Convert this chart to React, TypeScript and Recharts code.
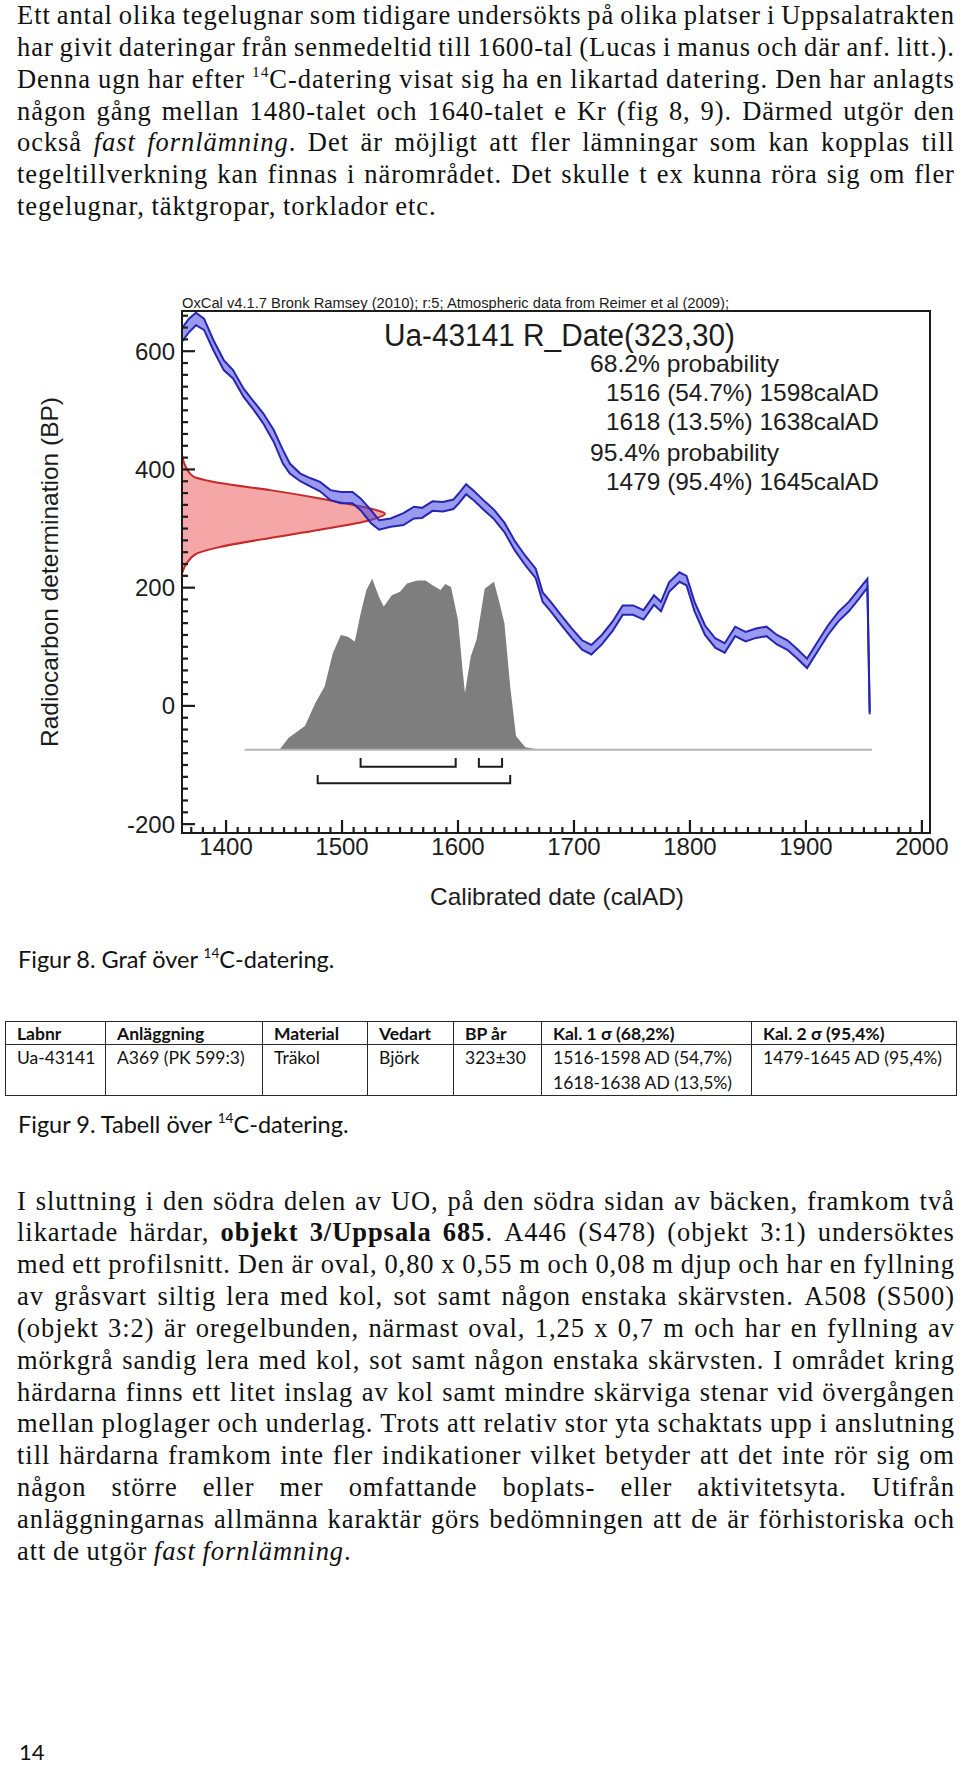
import React from 'react';
import { ComposedChart, Area, Line, XAxis, YAxis, ReferenceArea, Scatter } from 'recharts';

// ---------- chart values ----------
const X_DOMAIN: [number, number] = [1362, 2007];
const Y_DOMAIN: [number, number] = [-215, 668];
const X_MINOR_STEP = 10;
const Y_MINOR_STEP = 20;
const X_MAJOR_STEP = 100;
const Y_MAJOR_STEP = 200;

// calibration curve (IntCal09) band, years AD and BP bounds
const calYear = [1362, 1368, 1374, 1381, 1389, 1398, 1406, 1415, 1423, 1432, 1441, 1449, 1455, 1464, 1473, 1481, 1490, 1499, 1509, 1516, 1525, 1532, 1542, 1553, 1562, 1569, 1578, 1587, 1596, 1600, 1607, 1614, 1623, 1631, 1640, 1649, 1658, 1667, 1673, 1680, 1689, 1698, 1707, 1715, 1724, 1733, 1742, 1751, 1760, 1769, 1775, 1782, 1791, 1797, 1804, 1813, 1822, 1830, 1839, 1848, 1857, 1866, 1875, 1884, 1892, 1901, 1910, 1919, 1928, 1937, 1946, 1953, 1955];
const calLow = [616, 632, 644, 636, 602, 568, 554, 523, 503, 478, 447, 410, 393, 380, 371, 363, 348, 343, 343, 331, 309, 298, 303, 306, 317, 318, 330, 329, 333, 341, 358, 347, 330, 316, 294, 263, 238, 216, 176, 160, 137, 115, 95, 87, 104, 126, 154, 154, 146, 171, 160, 193, 210, 204, 160, 120, 98, 90, 118, 109, 115, 118, 104, 95, 81, 64, 92, 120, 143, 160, 182, 200, -14];
const calHigh = [639, 655, 665, 655, 619, 585, 568, 537, 517, 495, 467, 433, 410, 393, 385, 379, 365, 362, 362, 351, 331, 314, 317, 326, 337, 335, 346, 345, 349, 358, 375, 363, 346, 332, 310, 279, 254, 232, 192, 176, 153, 131, 111, 103, 120, 142, 170, 170, 162, 187, 176, 209, 226, 220, 176, 136, 114, 106, 134, 125, 131, 134, 120, 111, 97, 80, 108, 136, 159, 176, 198, 215, -10];

// calibrated probability distribution (grey)
const postYear = [1416, 1446, 1454, 1468, 1477, 1485, 1492, 1499, 1505, 1511, 1516, 1521, 1526, 1532, 1536, 1543, 1550, 1556, 1565, 1572, 1578, 1585, 1589, 1594, 1600, 1604, 1606, 1611, 1616, 1623, 1631, 1636, 1640, 1645, 1650, 1658, 1671];
const postBP = [-74, -74, -54, -34, 5, 33, 89, 120, 117, 109, 156, 196, 215, 184, 168, 187, 193, 207, 212, 212, 204, 196, 206, 201, 145, 60, 22, 84, 112, 198, 210, 173, 140, 33, -51, -70, -74];
const POST_BASE = -74;
const baseYears = [1416, 1957];

// probability range brackets
const b68aYear = [1516, 1516, 1598, 1598];
const b68bYear = [1618, 1618, 1638, 1638];
const b68BP = [-88, -103, -103, -88];
const b95Year = [1479, 1479, 1645, 1645];
const b95BP = [-117, -131, -131, -117];

// radiocarbon measurement distribution (red), drawn along the BP axis
const redBP = [425, 410, 398, 388, 377, 365, 351, 340, 331, 325, 314, 298, 284, 269, 258, 241, 224];
const redYear = [1362, 1364, 1367, 1372, 1395, 1438, 1481, 1510, 1530, 1537, 1524, 1481, 1438, 1395, 1375, 1366, 1362];

// ---------- tables built from the arrays ----------
const xTicks = Array.from({ length: (2000 - 1370) / X_MINOR_STEP + 1 }, (_, i) => 1370 + i * X_MINOR_STEP);
const yTicks = Array.from({ length: (660 - -200) / Y_MINOR_STEP + 1 }, (_, i) => -200 + i * Y_MINOR_STEP);
const calData = calYear.map((year, i) => ({ year, cal: [calLow[i], calHigh[i]] }));
const postData = postYear.map((year, i) => ({ year, post: [POST_BASE, postBP[i]] }));
const baseData = baseYears.map((year) => ({ year, base: POST_BASE }));
const b68aData = b68aYear.map((year, i) => ({ year, v: b68BP[i] }));
const b68bData = b68bYear.map((year, i) => ({ year, v: b68BP[i] }));
const b95Data = b95Year.map((year, i) => ({ year, v: b95BP[i] }));
const redData = redBP.map((bp, i) => ({ bp, yr: redYear[i] }));
// tick-mark positions on the frame (bottom edge for years, left edge for BP)
const xTickMarks = xTicks.map((year) => ({ year, v: Y_DOMAIN[0], dir: 'x', major: year % X_MAJOR_STEP === 0 }));
const yTickMarks = yTicks.map((v) => ({ year: X_DOMAIN[0], v, dir: 'y', major: v % Y_MAJOR_STEP === 0 }));

// ---------- text ----------
const para1 = [
  'Ett antal olika tegelugnar som tidigare undersökts på olika platser i Uppsalatrakten',
  'har givit dateringar från senmedeltid till 1600-tal (Lucas i manus och där anf. litt.).',
  'Denna ugn har efter ^14^C-datering visat sig ha en likartad datering. Den har anlagts',
  'någon gång mellan 1480-talet och 1640-talet e Kr (fig 8, 9). Därmed utgör den',
  'också *fast* *fornlämning*. Det är möjligt att fler lämningar som kan kopplas till',
  'tegeltillverkning kan finnas i närområdet. Det skulle t ex kunna röra sig om fler',
  'tegelugnar, täktgropar, torklador etc.',
];
const para2 = [
  'I sluttning i den södra delen av UO, på den södra sidan av bäcken, framkom två',
  'likartade härdar, **objekt** **3/Uppsala** **685**. A446 (S478) (objekt 3:1) undersöktes',
  'med ett profilsnitt. Den är oval, 0,80 x 0,55 m och 0,08 m djup och har en fyllning',
  'av gråsvart siltig lera med kol, sot samt någon enstaka skärvsten. A508 (S500)',
  '(objekt 3:2) är oregelbunden, närmast oval, 1,25 x 0,7 m och har en fyllning av',
  'mörkgrå sandig lera med kol, sot samt någon enstaka skärvsten. I området kring',
  'härdarna finns ett litet inslag av kol samt mindre skärviga stenar vid övergången',
  'mellan ploglager och underlag. Trots att relativ stor yta schaktats upp i anslutning',
  'till härdarna framkom inte fler indikationer vilket betyder att det inte rör sig om',
  'någon större eller mer omfattande boplats- eller aktivitetsyta. Utifrån',
  'anläggningarnas allmänna karaktär görs bedömningen att de är förhistoriska och',
  'att de utgör *fast* *fornlämning*.',
];
const tableHead = ['Labnr', 'Anläggning', 'Material', 'Vedart', 'BP år', 'Kal. 1 σ (68,2%)', 'Kal. 2 σ (95,4%)'];
const tableRow = [['Ua-43141'], ['A369 (PK 599:3)'], ['Träkol'], ['Björk'], ['323±30'], ['1516-1598 AD (54,7%)', '1618-1638 AD (13,5%)'], ['1479-1645 AD (95,4%)']];
const colWidths = [100, 157, 105, 86, 88, 210, 205];
const probLines = ['68.2% probability', '1516 (54.7%) 1598calAD', '1618 (13.5%) 1638calAD', '95.4% probability', '1479 (95.4%) 1645calAD'];

const FONT_SANS = '"Liberation Sans", Arial, Helvetica, sans-serif';
const FONT_SERIF = '"Liberation Serif", "Times New Roman", serif';
const FONT_CAP = 'Lato, "Open Sans", sans-serif';
const INK = '#1c1c1c';

const CH_LEFT = 0;
const CH_TOP = 290;
const CH_W = 960;
const CH_H = 620;
// plot area: x 182..930, y 311..833 (page px)
const MAIN_MARGIN = { top: 21, right: 30, bottom: 17, left: 122 };
const X_AXIS_H = 60;
const Y_AXIS_W = 60;
const OVERLAY_MARGIN = { top: 21, right: 30, bottom: 77, left: 182 };

function XTick(props: any) {
  const { x, y, payload } = props;
  const v = Number(payload?.value);
  if (v % X_MAJOR_STEP !== 0) return <g />;
  return (
    <text x={Number(x)} y={Number(y) + 22} textAnchor="middle" fontSize={24} fontFamily={FONT_SANS} fill={INK}>
      {v}
    </text>
  );
}

function YTick(props: any) {
  const { x, y, payload } = props;
  const v = Number(payload?.value);
  if (v % Y_MAJOR_STEP !== 0) return <g />;
  return (
    <text x={Number(x) - 7} y={Number(y) + 8.5} textAnchor="end" fontSize={24} fontFamily={FONT_SANS} fill={INK}>
      {v}
    </text>
  );
}

// shape for a tick mark placed by the scales at (cx, cy), pointing into the plot
function TickMark(props: any) {
  const { cx, cy, payload } = props;
  const x = Number(cx);
  const y = Number(cy);
  const len = payload?.major ? 13 : 6;
  const d = payload?.dir === 'x' ? `M${x - 1.1},${y}h2.2v${-len}h-2.2z` : `M${x},${y - 1.1}v2.2h${len}v-2.2z`;
  return <path d={d} fill={INK} stroke="none" />;
}

function renderWord(w: string, key: number) {
  const parts = w.split(/(\*\*[^*]+\*\*|\*[^*]+\*|\^[^^]+\^)/).filter((p) => p !== '');
  return (
    <span key={key}>
      {parts.map((p, i) => {
        if (p.startsWith('**')) return <b key={i}>{p.slice(2, -2)}</b>;
        if (p.startsWith('*')) return <i key={i}>{p.slice(1, -1)}</i>;
        if (p.startsWith('^'))
          return (
            <span key={i} style={{ fontSize: '0.58em', position: 'relative', top: '-0.72em' }}>
              {p.slice(1, -1)}
            </span>
          );
        return <React.Fragment key={i}>{p}</React.Fragment>;
      })}
    </span>
  );
}

function Paragraph({ lines, firstTop }: { lines: string[]; firstTop: number }) {
  return (
    <>
      {lines.map((ln, i) => {
        const last = i === lines.length - 1;
        const words = ln.split(' ');
        return (
          <div
            key={i}
            style={{
              position: 'absolute',
              left: 17,
              width: 938,
              top: firstTop + i * 31.85,
              height: 26,
              lineHeight: '26px',
              fontFamily: FONT_SERIF,
              fontSize: 26.5,
              letterSpacing: 0.95,
              color: '#111',
              whiteSpace: 'nowrap',
              display: 'flex',
              justifyContent: last ? 'flex-start' : 'space-between',
              columnGap: last ? '0.25em' : 0,
            }}
          >
            {words.map((w, k) => renderWord(w, k))}
          </div>
        );
      })}
    </>
  );
}

function Caption({ top, text }: { top: number; text: string }) {
  return (
    <div style={{ position: 'absolute', left: 18, top, height: 30, lineHeight: '30px', fontFamily: FONT_CAP, fontSize: 23.5, color: '#111', whiteSpace: 'nowrap' }}>
      {text.split(' ').map((w, k) => (
        <React.Fragment key={k}>
          {k > 0 ? ' ' : ''}
          {renderWord(w, k)}
        </React.Fragment>
      ))}
    </div>
  );
}

export default function App() {
  return (
    <div style={{ position: 'absolute', left: 0, top: 0, width: 960, height: 1765, background: '#fff', overflow: 'hidden' }}>
      <Paragraph lines={para1} firstTop={2} />

      {/* underlay chart: measurement distribution along the BP axis */}
      <div style={{ position: 'absolute', left: CH_LEFT, top: CH_TOP, width: CH_W, height: CH_H }}>
        <ComposedChart layout="vertical" width={CH_W} height={CH_H} data={redData} margin={OVERLAY_MARGIN}>
          <XAxis type="number" domain={X_DOMAIN} allowDataOverflow hide />
          <YAxis type="number" dataKey="bp" domain={Y_DOMAIN} allowDataOverflow reversed hide />
          <Area dataKey="yr" type="monotone" baseValue="dataMin" stroke="#c42a2a" strokeWidth={2} fill="#e83c3c" fillOpacity={0.45} dot={false} activeDot={false} isAnimationActive={false} />
        </ComposedChart>
      </div>

      {/* main chart: calibration curve, calibrated distribution, ranges */}
      <div style={{ position: 'absolute', left: CH_LEFT, top: CH_TOP, width: CH_W, height: CH_H }}>
        <ComposedChart width={CH_W} height={CH_H} data={calData} margin={MAIN_MARGIN}>
          <XAxis
            type="number"
            dataKey="year"
            domain={X_DOMAIN}
            allowDataOverflow
            ticks={xTicks}
            interval={0}
            tick={<XTick />}
            tickLine={false}
            tickSize={0}
            tickMargin={0}
            height={X_AXIS_H}
            axisLine={{ stroke: INK, strokeWidth: 2 }}
          />
          <YAxis
            type="number"
            domain={Y_DOMAIN}
            allowDataOverflow
            ticks={yTicks}
            interval={0}
            tick={<YTick />}
            tickLine={false}
            tickSize={0}
            tickMargin={0}
            width={Y_AXIS_W}
            axisLine={{ stroke: INK, strokeWidth: 2 }}
          />
          <Line data={baseData} dataKey="base" stroke="#b4b4b4" strokeWidth={2} dot={false} activeDot={false} isAnimationActive={false} />
          <Area data={postData} dataKey="post" type="linear" stroke="none" fill="#7e7e7e" fillOpacity={1} dot={false} activeDot={false} isAnimationActive={false} />
          <Area dataKey="cal" type="linear" stroke="#2626b0" strokeWidth={2} fill="#4646e4" fillOpacity={0.55} dot={false} activeDot={false} isAnimationActive={false} />
          <Line data={b68aData} dataKey="v" stroke={INK} strokeWidth={2} dot={false} activeDot={false} isAnimationActive={false} />
          <Line data={b68bData} dataKey="v" stroke={INK} strokeWidth={2} dot={false} activeDot={false} isAnimationActive={false} />
          <Line data={b95Data} dataKey="v" stroke={INK} strokeWidth={2} dot={false} activeDot={false} isAnimationActive={false} />
          <Scatter data={xTickMarks} dataKey="v" shape={<TickMark />} isAnimationActive={false} />
          <Scatter data={yTickMarks} dataKey="v" shape={<TickMark />} isAnimationActive={false} />
          <ReferenceArea x1={X_DOMAIN[0]} x2={X_DOMAIN[1]} y1={Y_DOMAIN[0]} y2={Y_DOMAIN[1]} fill="none" stroke={INK} strokeWidth={2} ifOverflow="visible" />
        </ComposedChart>
      </div>

      {/* chart texts */}
      <svg style={{ position: 'absolute', left: 0, top: 0 }} width={960} height={1000}>
        <text x={182} y={308} fontSize={14} fontFamily={FONT_SANS} fill={INK} textLength={547} lengthAdjust="spacingAndGlyphs">
          OxCal v4.1.7 Bronk Ramsey (2010); r:5; Atmospheric data from Reimer et al (2009);
        </text>
        <text x={384} y={346} fontSize={31} fontFamily={FONT_SANS} fill={INK} textLength={351} lengthAdjust="spacingAndGlyphs">
          Ua-43141 R_Date(323,30)
        </text>
        {probLines.map((t, i) => {
          const isHead = i === 0 || i === 3;
          const ys = [372, 401, 430, 461, 490];
          return (
            <text key={i} x={isHead ? 590 : 606} y={ys[i]} fontSize={24} fontFamily={FONT_SANS} fill={INK} textLength={isHead ? 189 : 273} lengthAdjust="spacingAndGlyphs">
              {t}
            </text>
          );
        })}
        <text x={58} y={572} transform="rotate(-90 58 572)" textAnchor="middle" fontSize={24} fontFamily={FONT_SANS} fill={INK} textLength={350} lengthAdjust="spacingAndGlyphs">
          Radiocarbon determination (BP)
        </text>
        <text x={557} y={905} textAnchor="middle" fontSize={24} fontFamily={FONT_SANS} fill={INK} textLength={254} lengthAdjust="spacingAndGlyphs">
          Calibrated date (calAD)
        </text>
      </svg>

      <Caption top={944} text="Figur 8. Graf över ^14^C-datering." />

      <table
        style={{
          position: 'absolute',
          left: 5,
          top: 1021,
          width: 951,
          borderCollapse: 'collapse',
          tableLayout: 'fixed',
          fontFamily: FONT_CAP,
          fontSize: 17.5,
          color: '#111',
        }}
      >
        <colgroup>
          {colWidths.map((w, i) => (
            <col key={i} style={{ width: w }} />
          ))}
        </colgroup>
        <tbody>
          <tr style={{ height: 23 }}>
            {tableHead.map((h, i) => (
              <td key={i} style={{ border: '1.5px solid #2a2a2a', padding: '0 0 0 11px', fontWeight: 700, lineHeight: '21px', whiteSpace: 'nowrap', verticalAlign: 'middle', overflow: 'hidden' }}>
                {h}
              </td>
            ))}
          </tr>
          <tr style={{ height: 51 }}>
            {tableRow.map((cell, i) => (
              <td key={i} style={{ border: '1.5px solid #2a2a2a', padding: '0 0 0 11px', lineHeight: '25px', whiteSpace: 'nowrap', verticalAlign: 'top', overflow: 'hidden' }}>
                {cell.map((l, k) => (
                  <div key={k}>{l}</div>
                ))}
              </td>
            ))}
          </tr>
        </tbody>
      </table>

      <Caption top={1109} text="Figur 9. Tabell över ^14^C-datering." />

      <Paragraph lines={para2} firstTop={1187.5} />

      <div style={{ position: 'absolute', left: 19, top: 1737.5, height: 28, lineHeight: '28px', fontFamily: FONT_CAP, fontSize: 22, color: '#111' }}>14</div>
    </div>
  );
}
